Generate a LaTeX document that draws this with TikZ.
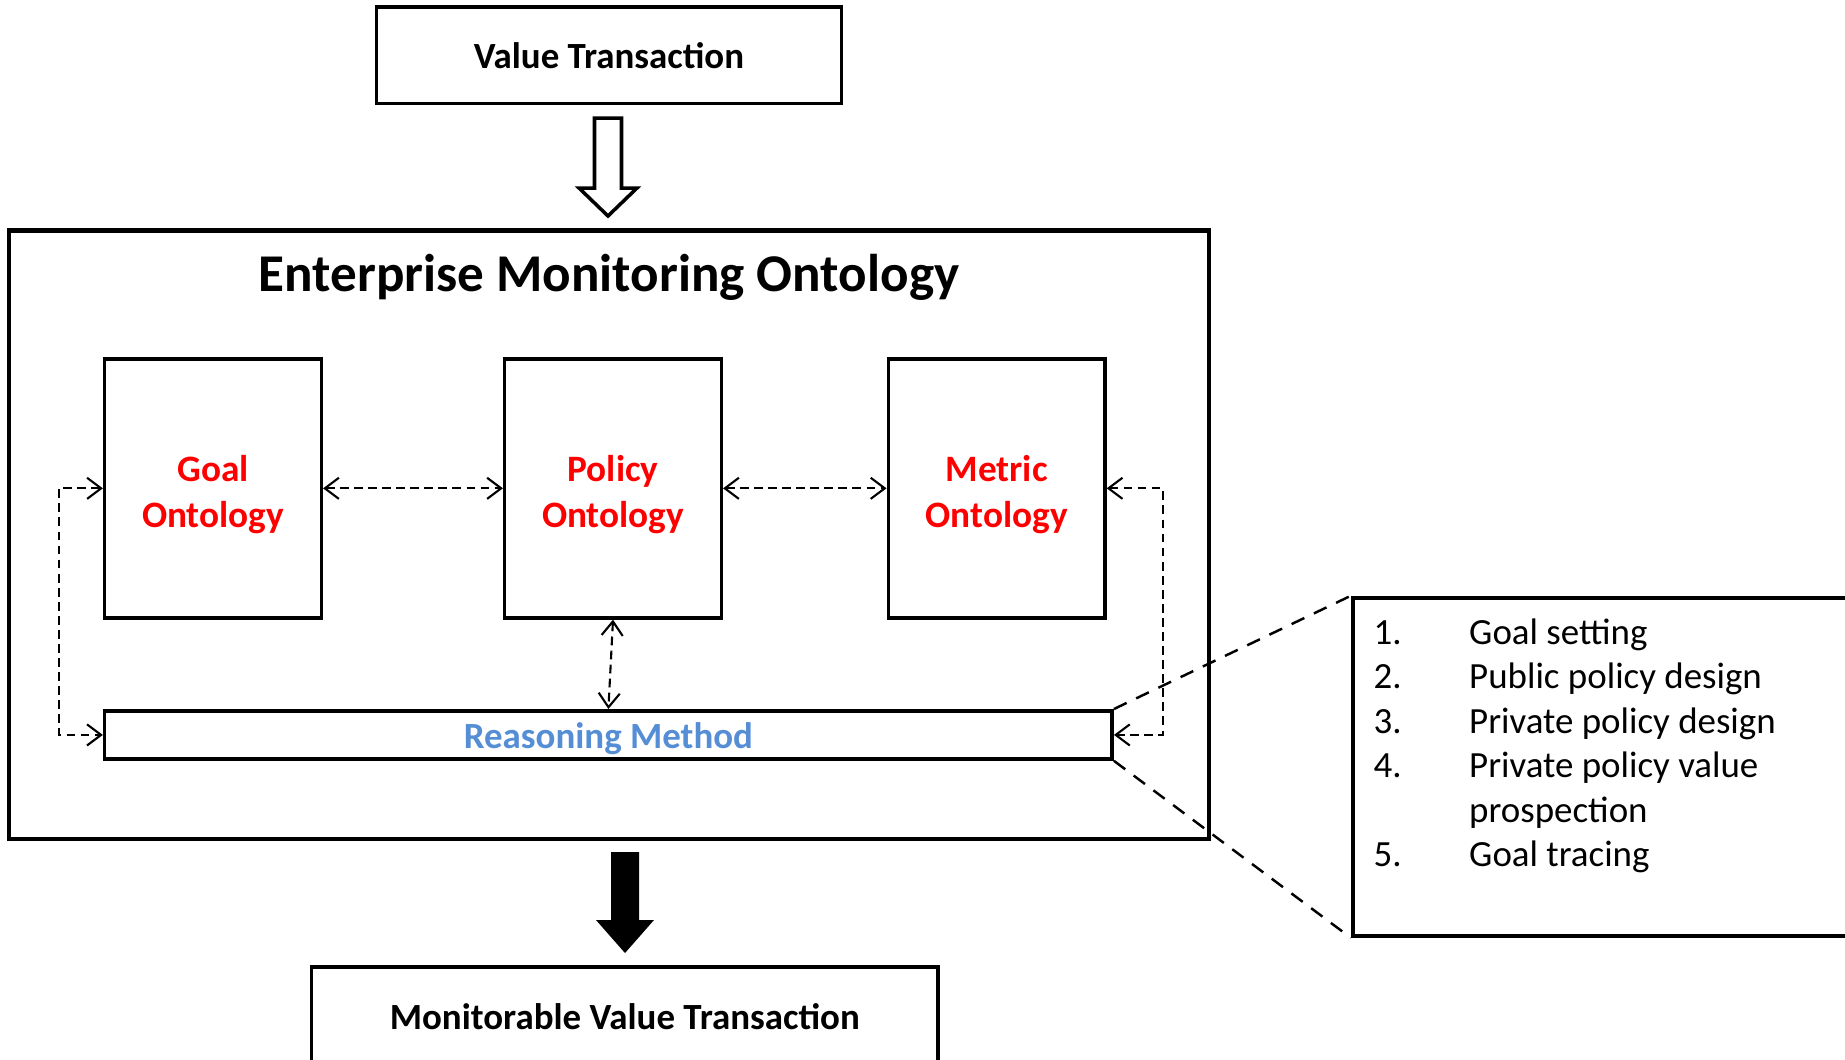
\documentclass[tikz,border=0pt]{standalone}
\usepackage{fontspec}
\setmainfont{Carlito}
\usetikzlibrary{arrows.meta}

\definecolor{azulrazon}{RGB}{85,142,213}
\newcommand{\alto}{\rule{0pt}{10.8pt}}

\tikzset{
  caja/.style={draw, line width=1pt, inner sep=0pt},
  texto/.style={font=\fontsize{10.5}{12.6}\selectfont\bfseries},
  onto/.style={caja, minimum width=2.165cm, minimum height=2.59cm, align=center,
    text=red, font=\fontsize{10.6}{13}\selectfont\bfseries},
  item/.style={anchor=base west, inner sep=0pt, font=\fontsize{10.5}{12.6}\selectfont},
  enlace/.style={{Straight Barb[length=4pt,width=6pt]}-{Straight Barb[length=4pt,width=6pt]},
    dash pattern=on 2.5pt off 1.5pt, line width=0.6pt},
  lupa/.style={dash pattern=on 4pt off 3pt, line width=0.7pt}
}

\begin{document}
\begin{tikzpicture}[x=0.01cm, y=-0.01cm]
  \useasboundingbox (0,0) rectangle (1845,1059);

  % Entrada y salida
  \node[caja, texto, minimum width=4.65cm, minimum height=0.965cm] (vt) at (609,55.3) {Value Transaction};
  \node[caja, texto, minimum width=6.26cm, minimum height=1.0cm] (mvt) at (624.8,1017) {Monitorable Value Transaction};

  % Flechas de bloque
  \draw[line width=1pt] (594.5,118) -- (621.5,118) -- (621.5,188) -- (637,188) -- (608,216)
    -- (579,188) -- (594.5,188) -- cycle;
  \fill (611,852) -- (639,852) -- (639,920) -- (654,920) -- (625,953) -- (596,920) -- (611,920) -- cycle;

  % Ontologia
  \node[caja, line width=1.2pt, minimum width=11.99cm, minimum height=6.084cm] (emo) at (609,534.8) {};
  \node[font=\fontsize{15.1}{18}\selectfont\bfseries] (titulo) at (609,277.5) {Enterprise Monitoring Ontology};

  \node[onto] (goal) at (213,488.3) {\alto Goal\\Ontology};
  \node[onto] (policy) at (613,488.3) {\alto Policy\\Ontology};
  \node[onto] (metric) at (996.6,488.3) {\alto Metric\\Ontology};
  \node[caja, texto, text=azulrazon, text height=9.6pt, text depth=2.1pt,
    minimum width=10.07cm, minimum height=0.483cm] (razon) at (608.4,734.9) {Reasoning Method};

  % Enlaces
  \draw[enlace] (goal.east) -- (policy.west);
  \draw[enlace] (policy.east) -- (metric.west);
  \draw[enlace] (policy.south) -- (razon.north);
  \draw[enlace] (goal.west) -- ++(-44,0) |- (razon.west);
  \draw[enlace] (metric.east) -- ++(56,0) |- (razon.east);

  % Detalle del metodo
  \node[caja, line width=1.2pt, minimum width=5.47cm, minimum height=3.375cm] (lista) at (1626.5,766.75) {};
  \draw[lupa] (razon.north east) -- (lista.north west);
  \draw[lupa] (razon.south east) -- (lista.south west);

  \node[item] (n1) at (1373,644) {1.};
  \node[item] (t1) at (1468.5,644) {Goal setting};
  \node[item] (n2) at (1373,688.5) {2.};
  \node[item] (t2) at (1468.5,688.5) {Public policy design};
  \node[item] (n3) at (1373,733) {3.};
  \node[item] (t3) at (1468.5,733) {Private policy design};
  \node[item] (n4) at (1373,777.5) {4.};
  \node[item] (t4) at (1468.5,777.5) {Private policy value};
  \node[item] (t4b) at (1468.5,822) {prospection};
  \node[item] (n5) at (1373,866.5) {5.};
  \node[item] (t5) at (1468.5,866.5) {Goal tracing};
\end{tikzpicture}
\end{document}
